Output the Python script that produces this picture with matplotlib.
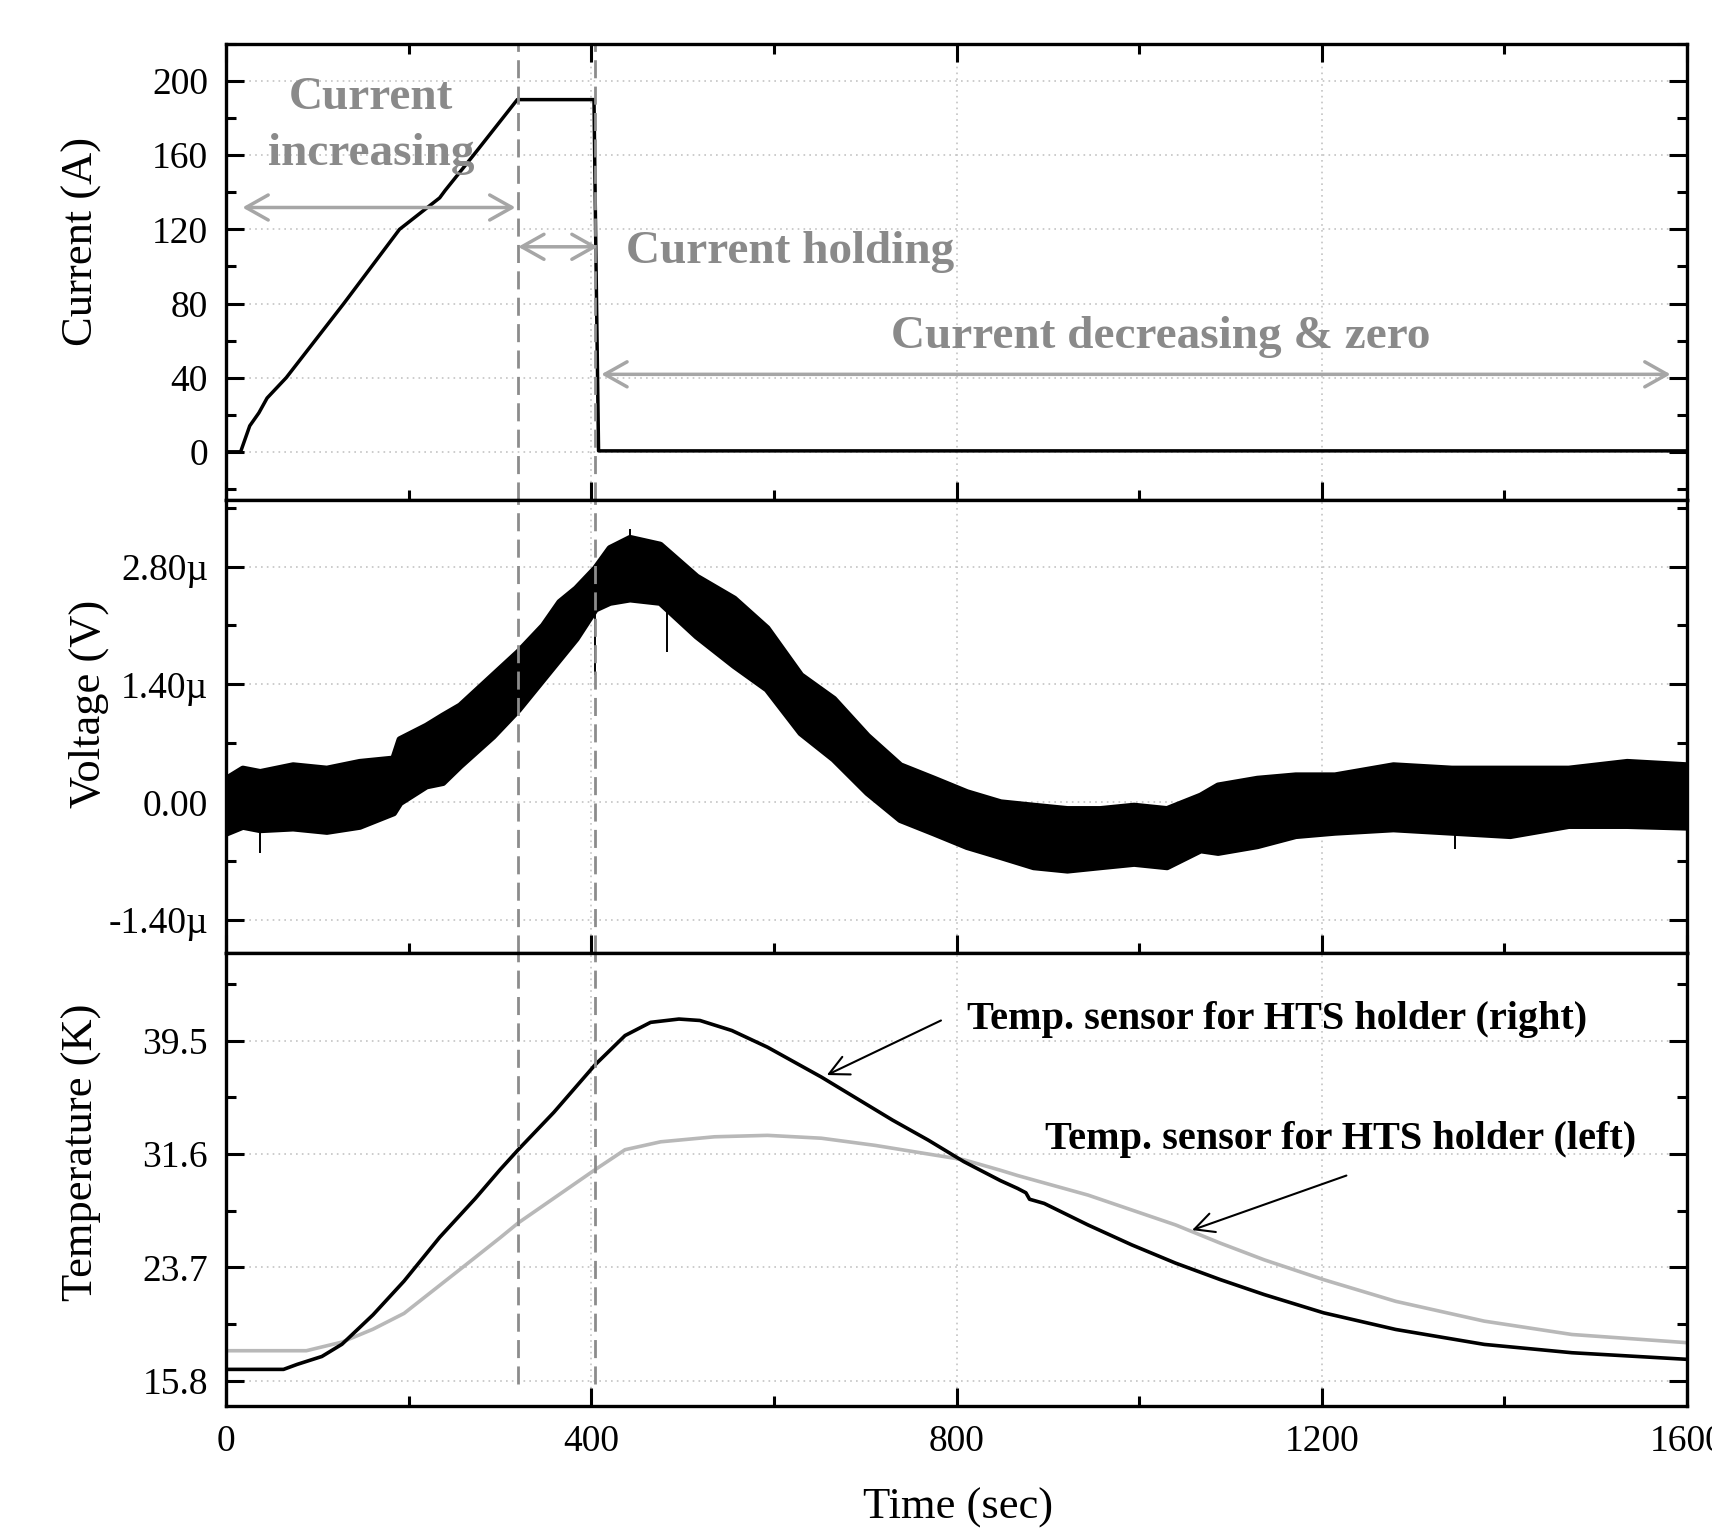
import numpy as np
import matplotlib
matplotlib.use("Agg")
import matplotlib.pyplot as plt
from matplotlib.ticker import MultipleLocator, FixedLocator, FixedFormatter

plt.rcParams['font.family'] = ['Liberation Serif', 'DejaVu Serif']

# ---- data ----
current_t = [0, 16, 26, 36, 45, 66, 129, 190, 234, 240, 271, 319, 403, 405, 408, 1600]
current_a = [0, 0, 14, 21, 29, 40, 80, 120, 137, 141, 160, 190, 190, 110, 0.5, 0.5]

# voltage trace (µV): upper / lower edge of the noise band
volt_t = [0, 18, 37, 73, 110, 146, 183, 190, 219, 237, 256, 292, 320, 347, 365, 383,
          404, 420, 442, 475, 515, 556, 592, 629, 665, 702, 738, 775, 811, 848, 884,
          921, 957, 994, 1030, 1067, 1086, 1129, 1171, 1214, 1278, 1342, 1406, 1470,
          1534, 1600]
volt_hi = [0.28, 0.40, 0.36, 0.44, 0.40, 0.48, 0.52, 0.75, 0.91, 1.03, 1.15, 1.51, 1.79,
           2.10, 2.38, 2.54, 2.78, 3.02, 3.14, 3.06, 2.68, 2.42, 2.07, 1.51, 1.23, 0.79,
           0.44, 0.28, 0.12, 0.00, -0.04, -0.08, -0.08, -0.04, -0.08, 0.08, 0.20, 0.28,
           0.32, 0.32, 0.44, 0.40, 0.40, 0.40, 0.48, 0.44]
volt_lo = [-0.36, -0.28, -0.32, -0.30, -0.34, -0.28, -0.12, 0.00, 0.20, 0.24, 0.44, 0.79,
           1.11, 1.47, 1.71, 1.95, 2.30, 2.38, 2.42, 2.38, 1.98, 1.63, 1.35, 0.83, 0.52,
           0.12, -0.20, -0.36, -0.52, -0.64, -0.76, -0.80, -0.76, -0.72, -0.76, -0.56,
           -0.59, -0.51, -0.39, -0.35, -0.31, -0.35, -0.39, -0.27, -0.27, -0.29]
spike_t = [37, 404, 442, 483, 1346]
spike_from = [-0.30, 2.30, 3.10, 2.38, -0.33]
spike_to = [-0.60, 1.51, 3.24, 1.79, -0.56]

right_t = [0, 63, 78, 105, 127, 161, 195, 234, 273, 300, 320, 359, 404, 437, 465, 496,
           519, 554, 593, 652, 691, 730, 769, 808, 848, 867, 876, 880, 896, 944, 992,
           1040, 1089, 1137, 1202, 1281, 1378, 1474, 1600]
right_T = [16.6, 16.6, 16.95, 17.5, 18.35, 20.4, 22.75, 25.8, 28.5, 30.5, 31.9, 34.5,
           37.8, 39.85, 40.77, 41.0, 40.9, 40.2, 39.04, 36.96, 35.46, 33.96, 32.57,
           31.07, 29.75, 29.2, 28.9, 28.45, 28.16, 26.66, 25.27, 24.0, 22.85, 21.81,
           20.54, 19.38, 18.34, 17.76, 17.3]
left_t = [0, 88, 127, 161, 195, 263, 300, 320, 404, 437, 476, 535, 593, 652, 711, 769,
          808, 848, 867, 944, 1040, 1089, 1137, 1202, 1281, 1378, 1474, 1600]
left_T = [17.9, 17.9, 18.5, 19.4, 20.5, 23.9, 25.76, 26.8, 30.5, 31.9, 32.45, 32.8,
          32.9, 32.7, 32.2, 31.6, 31.2, 30.47, 30.1, 28.74, 26.66, 25.39, 24.23, 22.85,
          21.34, 19.96, 19.03, 18.46]

phase_lines = [320, 404]

volt_ticks = [-1.4, 0.0, 1.4, 2.8]
volt_labels = ['-1.40\u00b5', '0.00', '1.40\u00b5', '2.80\u00b5']
temp_ticks = [15.8, 23.7, 31.6, 39.5]
temp_labels = ['15.8', '23.7', '31.6', '39.5']

fig = plt.figure(figsize=(17.12, 15.28), dpi=100)
L, W = 226/1712, 1461/1712
ax1 = fig.add_axes([L, 1-500/1528, W, 456/1528])
ax2 = fig.add_axes([L, 1-953/1528, W, 453/1528])
ax3 = fig.add_axes([L, 1-1406/1528, W, 453/1528])

grid_kw = dict(color='#c4c4c4', linestyle=(0, (1, 2.5)), linewidth=1.2)
for ax in (ax1, ax2, ax3):
    ax.set_xlim(0, 1600)
    ax.xaxis.set_major_locator(MultipleLocator(400))
    ax.xaxis.set_minor_locator(MultipleLocator(200))
    ax.tick_params(which='both', direction='in', right=True, top=(ax is ax1),
                   labelsize=27, width=2.2, pad=13)
    ax.tick_params(which='major', length=13)
    ax.tick_params(which='minor', length=7)
    ax.grid(True, which='major', **grid_kw)
    ax.set_axisbelow(True)
    for s in ax.spines.values():
        s.set_linewidth(2.4)
    if ax is not ax3:
        ax.tick_params(labelbottom=False)

# current
ax1.plot(current_t, current_a, color='black', lw=2.5)
ax1.set_ylim(-26, 220)
ax1.set_yticks([0, 40, 80, 120, 160, 200])
ax1.yaxis.set_minor_locator(MultipleLocator(20))
ax1.set_ylabel('Current (A)', fontsize=32)
ax1.yaxis.set_label_coords(-0.085, 0.566)

gray_txt = '#8a8a8a'
arrow_gray = '#a6a6a6'
ax1.text(159, 191, 'Current', color=gray_txt, fontsize=34, fontweight='bold',
         ha='center', va='center')
ax1.text(159, 160.5, 'increasing', color=gray_txt, fontsize=34, fontweight='bold',
         ha='center', va='center')
ax1.text(438, 108, 'Current holding', color=gray_txt, fontsize=34, fontweight='bold',
         ha='left', va='center')
ax1.text(1024, 62, 'Current decreasing & zero', color=gray_txt, fontsize=34,
         fontweight='bold', ha='center', va='center')
arr = dict(arrowstyle='<->,head_length=0.8,head_width=0.45', color=arrow_gray, lw=2.5,
           mutation_scale=20, shrinkA=0, shrinkB=0)
ax1.annotate('', xy=(317, 131.8), xytext=(18, 131.8), arrowprops=arr)
ax1.annotate('', xy=(407, 110.6), xytext=(320, 110.6), arrowprops=arr)
ax1.annotate('', xy=(1582, 41.8), xytext=(411, 41.8), arrowprops=arr)

# voltage: noisy band drawn as filled envelope
ax2.fill_between(volt_t, volt_lo, volt_hi, color='black', lw=5, edgecolor='black',
                 joinstyle='round')
ax2.vlines(spike_t, spike_from, spike_to, color='black', lw=1.4)
ax2.set_ylim(-1.79, 3.59)
ax2.yaxis.set_major_locator(FixedLocator(volt_ticks))
ax2.yaxis.set_major_formatter(FixedFormatter(volt_labels))
ax2.yaxis.set_minor_locator(MultipleLocator(0.7))
ax2.set_ylabel('Voltage (V)', fontsize=32)
ax2.yaxis.set_label_coords(-0.08, 0.55)

# temperature
ax3.plot(left_t, left_T, color='#b8b8b8', lw=2.6)
ax3.plot(right_t, right_T, color='black', lw=2.6)
ax3.set_ylim(14.05, 45.6)
ax3.yaxis.set_major_locator(FixedLocator(temp_ticks))
ax3.yaxis.set_major_formatter(FixedFormatter(temp_labels))
ax3.yaxis.set_minor_locator(FixedLocator([19.75, 27.65, 35.55, 43.45]))
ax3.set_ylabel('Temperature (K)', fontsize=32)
ax3.yaxis.set_label_coords(-0.085, 0.56)
ax3.set_xlabel('Time (sec)', fontsize=32, va='top')
ax3.xaxis.set_label_coords(0.5008, -0.181)

ax3.text(812, 41.0, 'Temp. sensor for HTS holder (right)', fontsize=29,
         fontweight='bold', ha='left', va='center')
ax3.text(897, 32.6, 'Temp. sensor for HTS holder (left)', fontsize=29,
         fontweight='bold', ha='left', va='center')
tarr = dict(arrowstyle='->,head_length=0.7,head_width=0.35', color='black', lw=1.5,
            mutation_scale=20, shrinkA=0, shrinkB=0)
ax3.annotate('', xy=(658, 37.1), xytext=(783, 40.9), arrowprops=tarr)
ax3.annotate('', xy=(1058, 26.3), xytext=(1227, 30.1), arrowprops=tarr)

# phase boundaries across all panels
dash_kw = dict(color='#8c8c8c', lw=2.0, linestyle=(0, (6.5, 3)))
for x in phase_lines:
    ax1.axvline(x, **dash_kw)
    ax2.axvline(x, **dash_kw)
    ax3.vlines(x, 15.6, 45.6, **dash_kw)

fig.savefig('out.png', dpi=100)
